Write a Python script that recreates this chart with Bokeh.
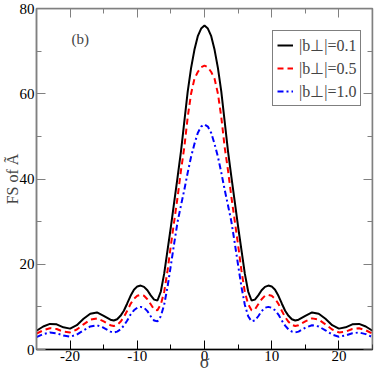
from bokeh.plotting import figure
from bokeh.models import LinearAxis, FixedTicker, Legend, LegendItem, Label, Range1d, CustomLabelingPolicy
from bokeh.embed import file_html
from bokeh.resources import INLINE

sigma = [-25, -24, -23, -22, -21, -20, -19, -18, -17, -16, -15,
         -14, -13.5, -13, -12.5, -12, -11.5, -11, -10.5, -10, -9.5, -9, -8.5, -8, -7.5, -7,
         -6.5, -6, -5.5, -5, -4.5, -4, -3.5, -3, -2.5, -2, -1.5, -1, -0.5,
         0,
         0.5, 1, 1.5, 2, 2.5, 3, 3.5, 4, 4.5, 5, 5.5, 6, 6.5,
         7, 7.5, 8, 8.5, 9, 9.5, 10, 10.5, 11, 11.5, 12, 12.5, 13, 13.5, 14,
         15, 16, 17, 18, 19, 20, 21, 22, 23, 24, 25]

fs_b01 = [4.4, 5.4, 6.0, 5.9, 5.2, 4.9, 5.7, 7.2, 8.4, 8.7, 7.9,
          7.0, 6.8, 7.1, 7.9, 9.1, 10.8, 12.6, 14.0, 14.8, 15.0, 14.7, 13.9, 12.7, 11.7, 11.5,
          13.6, 17.8, 23.3, 28.8, 34.7, 40.5, 46.5, 53.5, 60.5, 66.0, 70.3, 73.5, 75.3,
          76.0,
          75.3, 73.5, 70.3, 66.0, 60.5, 53.5, 46.5, 40.5, 34.7, 28.8, 23.3, 17.8, 13.6,
          11.5, 11.7, 12.7, 13.9, 14.7, 15.0, 14.8, 14.0, 12.6, 10.8, 9.1, 7.9, 7.1, 6.8, 7.0,
          7.9, 8.7, 8.4, 7.2, 5.7, 4.9, 5.2, 5.9, 6.0, 5.4, 4.4]

fs_b05 = [3.7, 4.5, 5.0, 4.8, 4.2, 4.0, 4.7, 5.9, 7.0, 7.3, 6.6,
          5.7, 5.5, 5.8, 6.5, 7.6, 9.1, 10.7, 11.9, 12.6, 12.8, 12.6, 11.8, 10.6, 9.4, 9.2,
          10.6, 13.5, 18.5, 24.5, 30.2, 35.8, 42.0, 47.5, 54.5, 60.0, 63.5, 65.1, 66.2,
          66.6,
          66.2, 65.1, 63.5, 60.0, 54.5, 47.5, 42.0, 35.8, 30.2, 24.5, 18.5, 13.5, 10.6,
          9.2, 9.4, 10.6, 11.8, 12.6, 12.8, 12.6, 11.9, 10.7, 9.1, 7.6, 6.5, 5.8, 5.5, 5.7,
          6.6, 7.3, 7.0, 5.9, 4.7, 4.0, 4.2, 4.8, 5.0, 4.5, 3.7]

fs_b10 = [2.9, 3.6, 4.0, 3.8, 3.3, 3.0, 3.5, 4.5, 5.4, 5.7, 5.1,
          4.2, 4.0, 4.2, 4.7, 5.6, 6.8, 8.2, 9.2, 9.8, 10.0, 9.8, 9.0, 7.8, 6.8, 6.6,
          7.8, 10.5, 14.7, 19.8, 25.0, 30.0, 33.8, 37.5, 41.5, 45.2, 48.2, 50.8, 52.3,
          52.8,
          52.3, 50.8, 48.2, 45.2, 41.5, 37.5, 33.8, 30.0, 25.0, 19.8, 14.7, 10.5, 7.8,
          6.6, 6.8, 7.8, 9.0, 9.8, 10.0, 9.8, 9.2, 8.2, 6.8, 5.6, 4.7, 4.2, 4.0, 4.2,
          5.1, 5.7, 5.4, 4.5, 3.5, 3.0, 3.3, 3.8, 4.0, 3.6, 2.9]

labels = ["|b\u22a5|=0.1", "|b\u22a5|=0.5", "|b\u22a5|=1.0"]
x_ticks = [-20, -10, 0, 10, 20]
x_minor = [-25, -15, -5, 5, 15, 25]
y_ticks = [0, 20, 40, 60, 80]
y_minor = [10, 30, 50, 70]

FONT = "Liberation Serif"

p = figure(width=374, height=374, output_backend="svg", toolbar_location=None,
           x_range=Range1d(-25, 25), y_range=Range1d(0, 80),
           min_border_left=0, min_border_right=2, min_border_top=8, min_border_bottom=0,
           x_axis_label="\u03c3", y_axis_label="FS of \u00c3")
p.grid.visible = False
p.outline_line_color = "#808080"
p.outline_line_width = 1.5

r1 = p.line(sigma, fs_b01, line_color="black", line_width=2)
r2 = p.line(sigma, fs_b05, line_color="#ff0000", line_width=2, line_dash="6 4")
r3 = p.line(sigma, fs_b10, line_color="#0000ff", line_width=2, line_dash="6 3 2 3")

hide_labels = CustomLabelingPolicy(code="""
const n = indices.size;
for (let i = 0; i < n; i++) { indices.unset(i); }
return indices;
""")

def style_axis(ax, color, show_labels=True):
    ax.axis_line_color = color
    ax.axis_line_width = 1.5
    ax.major_tick_line_color = color
    ax.minor_tick_line_color = color
    ax.major_tick_in = 9
    ax.major_tick_out = 0
    ax.minor_tick_in = 5
    ax.minor_tick_out = 0
    ax.major_label_text_font = FONT
    ax.major_label_text_font_size = "15px" if show_labels else "0px"
    ax.major_label_text_color = "black"
    ax.major_label_standoff = 2 if show_labels else 0
    ax.axis_label_text_font = FONT
    ax.axis_label_text_font_size = "16px"
    ax.axis_label_text_font_style = "normal"
    ax.axis_label_standoff = 1
    if not show_labels:
        ax.major_label_policy = hide_labels

xb = p.xaxis[0]
xb.ticker = FixedTicker(ticks=x_ticks, minor_ticks=x_minor)
xb.major_label_overrides = {t: str(t) for t in x_ticks}
style_axis(xb, "black")
xb.axis_label_text_font_size = "18px"
xb.major_label_standoff = 1
xb.axis_label_standoff = -12

yl = p.yaxis[0]
yl.ticker = FixedTicker(ticks=y_ticks, minor_ticks=y_minor)
style_axis(yl, "#808080")
yl.axis_label_standoff = -4

xt = LinearAxis(ticker=FixedTicker(ticks=x_ticks, minor_ticks=x_minor), fixed_location=80)
style_axis(xt, "#808080", show_labels=False)
p.add_layout(xt, "above")
yr = LinearAxis(ticker=FixedTicker(ticks=y_ticks, minor_ticks=y_minor), fixed_location=25)
style_axis(yr, "#808080", show_labels=False)
p.add_layout(yr, "right")

legend = Legend(items=[LegendItem(label=labels[0], renderers=[r1]),
                       LegendItem(label=labels[1], renderers=[r2]),
                       LegendItem(label=labels[2], renderers=[r3])],
                location=(236, 243))
legend.label_text_font = FONT
legend.label_text_font_size = "16px"
legend.border_line_color = "black"
legend.border_line_width = 1
legend.glyph_width = 16
legend.glyph_height = 20
legend.label_height = 20
legend.spacing = 3
legend.padding = 4
legend.margin = 0
legend.label_standoff = 6
legend.background_fill_alpha = 1
p.add_layout(legend)

p.add_layout(Label(x=-19.8, y=71, text="(b)", text_font=FONT, text_font_size="15px"))

open("out.html", "w").write(file_html(p, INLINE))
